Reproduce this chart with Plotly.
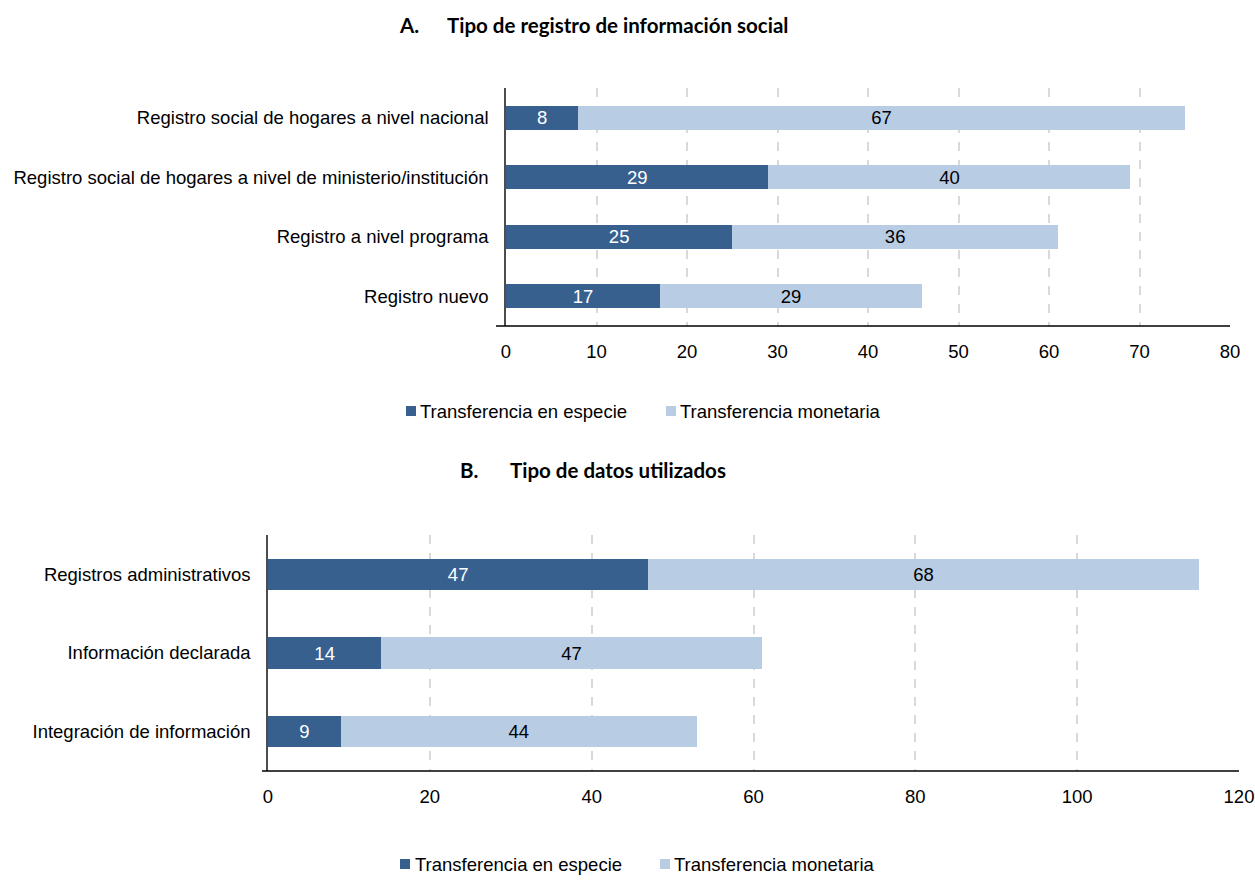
import plotly.graph_objects as go

# ---------------- data ----------------
cats_a = [
    "Registro social de hogares a nivel nacional",
    "Registro social de hogares a nivel de ministerio/institución",
    "Registro a nivel programa",
    "Registro nuevo",
]
especie_a = [8, 29, 25, 17]
monetaria_a = [67, 40, 36, 29]

cats_b = [
    "Registros administrativos",
    "Información declarada",
    "Integración de información",
]
especie_b = [47, 14, 9]
monetaria_b = [68, 47, 44]

ticks_a = [0, 10, 20, 30, 40, 50, 60, 70, 80]
ticks_b = [0, 20, 40, 60, 80, 100, 120]

series_names = ["Transferencia en especie", "Transferencia monetaria"]
title_a = ("A.", "Tipo de registro de información social")
title_b = ("B.", "Tipo de datos utilizados")

# ---------------- styles ----------------
W, H = 1255, 880
DARK = "#37608f"
LIGHT = "#b8cce4"
FONT = "Liberation Sans, Arial, sans-serif"
TFONT = "Lato, Open Sans, sans-serif"
FS = 18.5


def px_x(p):
    return p / W


def px_y(p):
    return 1 - p / H


fig = go.Figure()

for vals, name, color, tcol, xa, ya, cats in [
    (especie_a, series_names[0], DARK, "white", "x", "y", cats_a),
    (monetaria_a, series_names[1], LIGHT, "black", "x", "y", cats_a),
    (especie_b, series_names[0], DARK, "white", "x2", "y2", cats_b),
    (monetaria_b, series_names[1], LIGHT, "black", "x2", "y2", cats_b),
]:
    fig.add_trace(go.Bar(
        x=vals, y=cats, orientation="h", name=name,
        marker=dict(color=color, line=dict(width=0)),
        text=[str(v) for v in vals], textposition="inside", textangle=0,
        insidetextanchor="middle", constraintext="none",
        textfont=dict(color=tcol, size=FS, family=FONT),
        width=0.4, xaxis=xa, yaxis=ya, showlegend=False,
        hoverinfo="x+y+name",
    ))

xcommon = dict(
    showgrid=True, gridcolor="#d9d9d9", griddash="dash", gridwidth=1.5,
    zeroline=False, showline=False, ticks="", ticklabelstandoff=12,
    automargin=False,
    tickfont=dict(size=FS, family=FONT, color="#000"),
)
ycommon = dict(
    showgrid=False, zeroline=False, showline=True, linecolor="#4d4d4d",
    linewidth=1.5, ticks="", autorange="reversed", ticklabelstandoff=12,
    automargin=False,
    tickfont=dict(size=FS, family=FONT, color="#000"), type="category",
)

fig.update_layout(
    width=W, height=H, margin=dict(l=0, r=0, t=0, b=0, autoexpand=False),
    paper_bgcolor="white", plot_bgcolor="white",
    barmode="stack", showlegend=False,
    uniformtext=dict(mode=False),
    xaxis=dict(domain=[px_x(506), px_x(1230)], range=[0, 80], tickvals=ticks_a,
               anchor="y", **xcommon),
    yaxis=dict(domain=[px_y(326), px_y(88)], anchor="x", **ycommon),
    xaxis2=dict(domain=[px_x(268), px_x(1239)], range=[0, 120], tickvals=ticks_b,
                anchor="y2", **xcommon),
    yaxis2=dict(domain=[px_y(771), px_y(535)], anchor="x2", **ycommon),
)

shapes = []
# x axis lines (extend slightly left of the y axis)
for xa, ya, ext in [("x", "y", 10 / 724), ("x2", "y2", 6 / 971)]:
    shapes.append(dict(type="line", xref=f"{xa} domain", yref=f"{ya} domain",
                       x0=-ext, x1=1, y0=0, y1=0, line=dict(color="black", width=1.5), layer="above"))

annotations = []
# titles
for (lab, txt), xl, xt, yc in [(title_a, 397, 445, 25), (title_b, 458, 508, 470)]:
    annotations.append(dict(text=f"<b>{lab}</b>", x=px_x(xl), y=px_y(yc), xref="paper", yref="paper",
                            xanchor="left", yanchor="middle", showarrow=False,
                            font=dict(size=20.5, family=TFONT, color="#000")))
    annotations.append(dict(text=f"<b>{txt}</b>", x=px_x(xt), y=px_y(yc), xref="paper", yref="paper",
                            xanchor="left", yanchor="middle", showarrow=False,
                            font=dict(size=20.5, family=TFONT, color="#000")))

# legends (square + text)
for yc, items in [(411, [(406, 418), (666, 678)]), (864, [(400, 413), (660, 672)])]:
    for (sx, tx), name, color in zip(items, series_names, [DARK, LIGHT]):
        shapes.append(dict(type="rect", xref="paper", yref="paper",
                           x0=px_x(sx), x1=px_x(sx + 10), y0=px_y(yc + 5), y1=px_y(yc - 5),
                           fillcolor=color, line=dict(width=0)))
        annotations.append(dict(text=name, x=px_x(tx), y=px_y(yc), xref="paper", yref="paper",
                                xanchor="left", yanchor="middle", showarrow=False,
                                font=dict(size=FS, family=FONT, color="#000")))

fig.update_layout(shapes=shapes, annotations=annotations)

fig.write_html("out.html")
